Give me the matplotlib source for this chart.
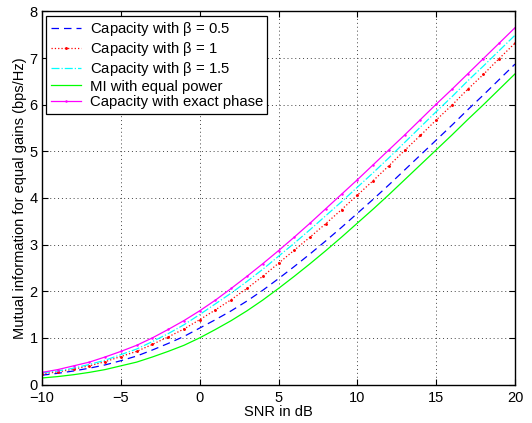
import numpy as np
import matplotlib.pyplot as plt

plt.rcParams['font.family'] = ['Liberation Sans', 'DejaVu Sans']

snr_db = list(range(-10, 21))

cap_b05 = [0.20, 0.24, 0.29, 0.35, 0.42, 0.51, 0.61, 0.74, 0.88, 1.03, 1.21,
           1.39, 1.58, 1.79, 2.02, 2.27, 2.53, 2.80, 3.08, 3.37, 3.67,
           3.97, 4.28, 4.60, 4.92, 5.24, 5.56, 5.89, 6.21, 6.54, 6.87]
cap_b1 = [0.23, 0.27, 0.33, 0.40, 0.49, 0.60, 0.71, 0.86, 1.02, 1.19, 1.39,
          1.60, 1.82, 2.06, 2.32, 2.60, 2.88, 3.16, 3.45, 3.75, 4.06,
          4.37, 4.69, 5.02, 5.34, 5.67, 5.99, 6.33, 6.65, 6.99, 7.32]
cap_b15 = [0.25, 0.29, 0.35, 0.43, 0.52, 0.64, 0.76, 0.92, 1.09, 1.28, 1.50,
           1.73, 1.96, 2.21, 2.47, 2.75, 3.03, 3.32, 3.62, 3.92, 4.23,
           4.54, 4.86, 5.19, 5.52, 5.85, 6.17, 6.51, 6.83, 7.16, 7.49]
mi_equal = [0.14, 0.17, 0.21, 0.26, 0.32, 0.40, 0.48, 0.59, 0.71, 0.84, 1.00,
            1.18, 1.37, 1.58, 1.81, 2.06, 2.32, 2.59, 2.87, 3.16, 3.46,
            3.76, 4.07, 4.39, 4.71, 5.03, 5.35, 5.68, 6.00, 6.33, 6.66]
cap_exact = [0.26, 0.32, 0.40, 0.48, 0.59, 0.71, 0.84, 1.00, 1.18, 1.37, 1.58,
             1.81, 2.06, 2.32, 2.59, 2.87, 3.16, 3.46, 3.77, 4.08, 4.39,
             4.71, 5.03, 5.35, 5.68, 6.01, 6.33, 6.66, 6.99, 7.32, 7.65]

fig = plt.figure(figsize=(5.32, 4.23), dpi=100)
ax = fig.add_axes([0.079, 0.091, 0.889, 0.882])

ax.plot(snr_db, cap_b05, color='#0000ff', ls=(0, (6, 4)), lw=0.9,
        label=r'Capacity with $\mathregular{\beta}$ = 0.5')
ax.plot(snr_db, cap_b1, color='#ff0000', ls=':', lw=0.9, marker='.', ms=2.2,
        label=r'Capacity with $\mathregular{\beta}$ = 1')
ax.plot(snr_db, cap_b15, color='#00ffff', ls='-.', lw=0.9,
        label=r'Capacity with $\mathregular{\beta}$ = 1.5')
ax.plot(snr_db, mi_equal, color='#00ff00', ls='-', lw=0.9,
        label='MI with equal power')
ax.plot(snr_db, cap_exact, color='#ff00ff', ls='-', lw=0.9, marker='.', ms=1.6,
        label='Capacity with exact phase')

ax.set_xlim(-10, 20)
ax.set_ylim(0, 8)
ax.set_xticks([-10, -5, 0, 5, 10, 15, 20])
ax.set_xticklabels(['\u221210', '\u22125', '0', '5', '10', '15', '20'])
ax.set_yticks(range(0, 9))
ax.grid(True, ls=(0, (1, 3)), color='#444444', lw=0.7)
ax.tick_params(direction='in', top=True, right=True, labelsize=10.5, length=4)
ax.tick_params(axis='x', pad=5)
ax.tick_params(axis='y', pad=3)
for s in ax.spines.values():
    s.set_linewidth(1.0)

ax.set_xlabel('SNR in dB', fontsize=10.5, labelpad=0)
ax.set_ylabel('Mutual information for equal gains (bps/Hz)', fontsize=10.5, labelpad=2)

leg = ax.legend(loc='upper left', fontsize=10.7, fancybox=False, framealpha=1,
                edgecolor='black', borderaxespad=0.3, handlelength=2.0,
                handletextpad=0.6, labelspacing=0.12, borderpad=0.3,
                numpoints=1)
leg.get_frame().set_linewidth(0.9)

fig.savefig('out.png', dpi=100)
